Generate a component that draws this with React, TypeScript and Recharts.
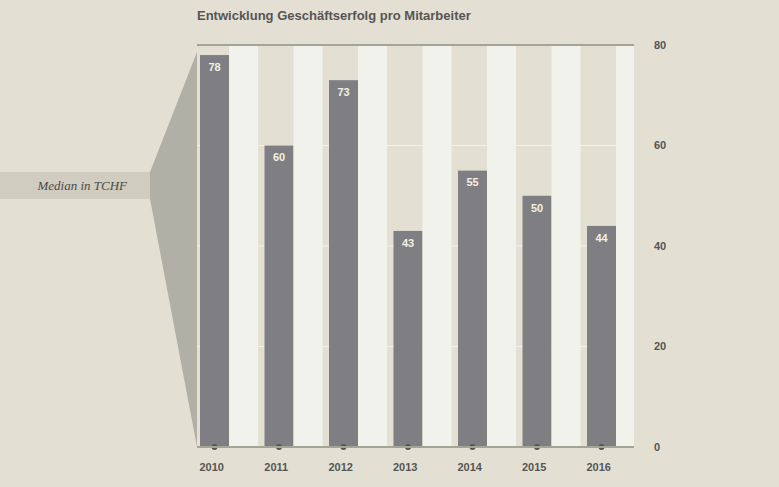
import { Bar, BarChart, CartesianGrid, LabelList, ReferenceLine, XAxis, YAxis } from "recharts";

const years = ["2010", "2011", "2012", "2013", "2014", "2015", "2016"];
const medianValues = [78, 60, 73, 43, 55, 50, 44];
const yTicks = [0, 20, 40, 60, 80];

const data = years.map((year, i) => ({ year, value: medianValues[i] }));

const PLOT_RIGHT = 634;
const BEIGE = "#e3e0d3";
const LIGHT = "#f2f2ec";

const ValueBar = (props: any) => {
    const { x, y, width, height } = props;
    return (
        <g>
            <rect x={x} y={y} width={width} height={height} fill="#7f7f83" />
            <circle cx={x + width / 2} cy={y + height} r={3} fill="#555558" />
        </g>
    );
};

const SpacerBar = (props: any) => {
    const { x, y, width, height } = props;
    const w = Math.max(0, Math.min(width, PLOT_RIGHT - x));
    return <rect x={x} y={y} width={w} height={height} fill={LIGHT} />;
};

const YearTick = (props: any) => {
    const { x, y, payload } = props;
    return (
        <text x={x - 17.5} y={y + 4} textAnchor="middle" fontSize={11} fontWeight="bold" fill="#555" fontFamily="Liberation Sans, Arial, sans-serif">
            {payload.value}
        </text>
    );
};

const App = () => {
    return (
        <div style={{ position: "absolute", left: 0, top: 0, width: 779, height: 487, background: BEIGE, fontFamily: "Liberation Sans, Arial, sans-serif" }}>
            <svg width={779} height={487} style={{ position: "absolute", left: 0, top: 0 }}>
                <polygon points="150,172 197,52 197,447 150,199" fill="#b1b0a7" />
                <rect x={0} y={172} width={150} height={27} fill="#d0cdc0" />
                <text x={127} y={190} textAnchor="end" fontSize={13} fontStyle="italic" fill="#4a4a4a" fontFamily="Liberation Serif, serif">
                    Median in TCHF
                </text>
            </svg>
            <div style={{ position: "absolute", left: 197, top: 8, fontSize: 13, fontWeight: "bold", color: "#555" }}>
                Entwicklung Geschäftserfolg pro Mitarbeiter
            </div>
            <div style={{ position: "absolute", left: 0, top: 0 }}>
                <BarChart
                    width={779}
                    height={487}
                    data={data}
                    margin={{ top: 45, right: 105, bottom: 0, left: 197 }}
                    barGap={0}
                    barCategoryGap={0}
                >
                    <CartesianGrid fill={BEIGE} stroke={LIGHT} vertical={false} />
                    <XAxis
                        dataKey="year"
                        height={40}
                        padding={{ left: 0, right: -14.5 }}
                        axisLine={{ stroke: "#a5a497", strokeWidth: 2 }}
                        tickLine={false}
                        tickMargin={14}
                        tick={<YearTick />}
                    />
                    <YAxis
                        orientation="right"
                        width={40}
                        domain={[0, 80]}
                        ticks={yTicks}
                        axisLine={false}
                        tickLine={false}
                        tickMargin={14}
                        tick={{ fontSize: 11, fontWeight: "bold", fill: "#555" }}
                    />
                    <Bar dataKey="value" barSize={29} shape={<ValueBar />} isAnimationActive={false}>
                        <LabelList dataKey="value" position="insideTop" offset={8} fill="#f3f0e4" fontSize={11} fontWeight="bold" />
                    </Bar>
                    <Bar dataKey={() => 80} barSize={35.5} shape={<SpacerBar />} isAnimationActive={false} />
                    <ReferenceLine y={80} stroke="#a5a497" strokeWidth={2} />
                </BarChart>
            </div>
        </div>
    );
};

export default App;
